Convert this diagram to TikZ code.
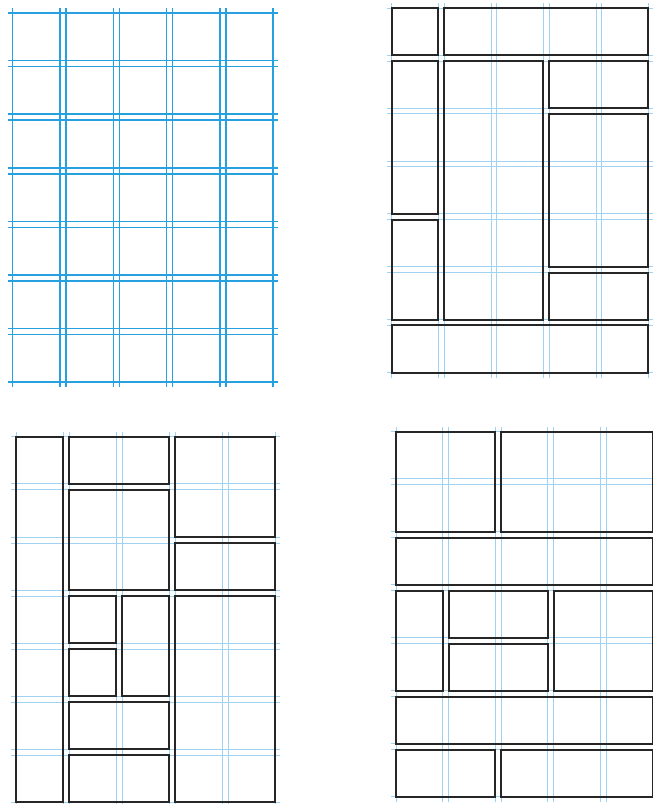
\documentclass[tikz,border=0pt]{standalone}
\definecolor{gridblue}{RGB}{38,160,222}
\definecolor{faintblue}{RGB}{160,210,242}
\tikzset{
  boxline/.style={draw=black!85, line width=2pt, line join=miter},
  bluegrid/.style={draw=gridblue, line width=1.5pt},
  faintgrid/.style={draw=faintblue, line width=0.8pt},
}
\newcommand{\setpanel}[3]{\def\PW{#1}\def\PH{#2}\def\PG{#3}}
\newcommand{\panelgrid}[2]{%
  \foreach \i in {0,...,4} {
    \draw[#1] ({\i*(\PW+\PG)+#2},-5) -- ({\i*(\PW+\PG)+#2},{7*\PH+6*\PG+5});
    \draw[#1] ({\i*(\PW+\PG)+\PW+#2},-5) -- ({\i*(\PW+\PG)+\PW+#2},{7*\PH+6*\PG+5});
  }
  \foreach \j in {0,...,6} {
    \draw[#1] (-5,{\j*(\PH+\PG)+#2}) -- ({5*\PW+4*\PG+5},{\j*(\PH+\PG)+#2});
    \draw[#1] (-5,{\j*(\PH+\PG)+\PH+#2}) -- ({5*\PW+4*\PG+5},{\j*(\PH+\PG)+\PH+#2});
  }
}
\newcommand{\modbox}[4]{%
  \draw[boxline] ({(#1-1)*(\PW+\PG)},{(#2-1)*(\PH+\PG)}) rectangle ({#3*\PW+(#3-1)*\PG},{#4*\PH+(#4-1)*\PG});
}
\begin{document}
\begin{tikzpicture}[x=1pt,y=-1pt]
\useasboundingbox[fill=white] (0,0) rectangle (653,804);
% Panel 1: plain grid
\begin{scope}[shift={(12.7,13)}]
  \setpanel{47.3}{47.6}{6}
  \panelgrid{bluegrid}{0}
\end{scope}
% Panel 2
\begin{scope}[shift={(391.7,8)}]
  \setpanel{46.7}{47.1}{5.8}
  \panelgrid{faintgrid}{0}
  \modbox{1}{1}{1}{1}
  \modbox{2}{1}{5}{1}
  \modbox{1}{2}{1}{4}
  \modbox{1}{5}{1}{6}
  \modbox{2}{2}{3}{6}
  \modbox{4}{2}{5}{2}
  \modbox{4}{3}{5}{5}
  \modbox{4}{6}{5}{6}
  \modbox{1}{7}{5}{7}
\end{scope}
% Panel 3
\begin{scope}[shift={(16,436.7)}]
  \setpanel{47}{47.1}{6}
  \panelgrid{faintgrid}{0}
  \modbox{1}{1}{1}{7}
  \modbox{2}{1}{3}{1}
  \modbox{2}{2}{3}{3}
  \modbox{2}{4}{2}{4}
  \modbox{2}{5}{2}{5}
  \modbox{3}{4}{3}{5}
  \modbox{2}{6}{3}{6}
  \modbox{2}{7}{3}{7}
  \modbox{4}{1}{5}{2}
  \modbox{4}{3}{5}{3}
  \modbox{4}{4}{5}{7}
\end{scope}
% Panel 4
\begin{scope}[shift={(396,431.7)}]
  \setpanel{46.6}{47}{6}
  \panelgrid{faintgrid}{0}
  \modbox{1}{1}{2}{2}
  \modbox{3}{1}{5}{2}
  \modbox{1}{3}{5}{3}
  \modbox{1}{4}{1}{5}
  \modbox{2}{4}{3}{4}
  \modbox{2}{5}{3}{5}
  \modbox{4}{4}{5}{5}
  \modbox{1}{6}{5}{6}
  \modbox{1}{7}{2}{7}
  \modbox{3}{7}{5}{7}
\end{scope}
\end{tikzpicture}
\end{document}
